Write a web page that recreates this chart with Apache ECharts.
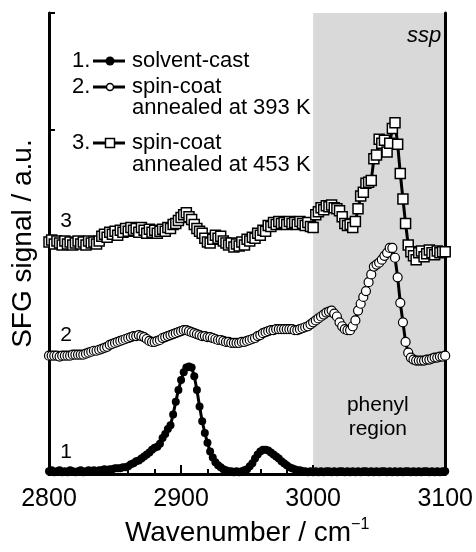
<!DOCTYPE html>
<html>
<head>
<meta charset="utf-8">
<script src="https://cdn.jsdelivr.net/npm/echarts@6.0.0/dist/echarts.min.js"></script>
<style>
  html, body { margin: 0; padding: 0; background: #fff; }
  #chart { width: 476px; height: 552px; }
</style>
</head>
<body>
<div id="chart"></div>
<script>
// wavenumber grid of the scan (cm-1)
var wavenumber = [
  2800, 2802, 2804, 2806, 2808, 2810, 2812, 2814, 2816, 2818,
  2820, 2822, 2824, 2826, 2828, 2830, 2832, 2834, 2836, 2838,
  2840, 2842, 2844, 2846, 2848, 2850, 2852, 2854, 2856, 2858,
  2860, 2862, 2864, 2866, 2868, 2870, 2872, 2874, 2876, 2878,
  2880, 2882, 2884, 2886, 2888, 2890, 2892, 2894, 2896, 2898,
  2900, 2902, 2904, 2906, 2908, 2910, 2912, 2914, 2916, 2918,
  2920, 2922, 2924, 2926, 2928, 2930, 2932, 2934, 2936, 2938,
  2940, 2942, 2944, 2946, 2948, 2950, 2952, 2954, 2956, 2958,
  2960, 2962, 2964, 2966, 2968, 2970, 2972, 2974, 2976, 2978,
  2980, 2982, 2984, 2986, 2988, 2990, 2992, 2994, 2996, 2998,
  3000, 3002, 3004, 3006, 3008, 3010, 3012, 3014, 3016, 3018,
  3020, 3022, 3024, 3026, 3028, 3030, 3032, 3034, 3036, 3038,
  3040, 3042, 3044, 3046, 3048, 3050, 3052, 3054, 3056, 3058,
  3060, 3062, 3064, 3066, 3068, 3070, 3072, 3074, 3076, 3078,
  3080, 3082, 3084, 3086, 3088, 3090, 3092, 3094, 3096, 3098,
  3100
];

// 1. solvent-cast
var solventCast = [
  3, 4, 2, 3, 4, 2, 3, 2, 4, 3,
  2, 3, 4, 2, 3, 4, 3, 4, 3, 4,
  4, 5, 4, 5, 5, 6, 6, 6, 7, 7,
  8, 10, 11, 13, 14, 16, 18, 20, 22, 25,
  27, 28, 31, 37, 41, 46, 50, 61, 74, 86,
  96, 104, 109, 110, 109, 100, 86, 69, 54, 42,
  32, 23, 17, 12, 9, 7, 5, 4, 3, 3,
  2, 3, 2, 3, 4, 5, 8, 11, 16, 20,
  23, 25, 25, 24, 22, 20, 18, 16, 13, 11,
  9, 7, 6, 5, 4, 4, 3, 3, 2, 3,
  2, 3, 2, 3, 2, 3, 3, 2, 3, 2,
  3, 3, 2, 3, 2, 3, 2, 3, 2, 3,
  3, 2, 3, 2, 3, 2, 3, 3, 2, 3,
  2, 3, 2, 3, 2, 3, 3, 2, 3, 2,
  3, 2, 3, 3, 2, 3, 2, 3, 2, 3,
  3
];

// 2. spin-coat annealed at 393 K (offset)
var spinCoat393 = [
  121, 121, 121, 121, 120, 121, 121, 121, 121, 122,
  122, 122, 122, 122, 123, 124, 125, 126, 126, 127,
  128, 129, 130, 132, 133, 134, 135, 136, 137, 138,
  139, 140, 141, 141, 142, 141, 140, 138, 136, 135,
  135, 136, 137, 139, 140, 141, 142, 143, 144, 145,
  146, 147, 147, 146, 145, 144, 143, 142, 141, 141,
  140, 140, 139, 138, 137, 137, 136, 135, 135, 134,
  134, 134, 134, 135, 135, 136, 137, 138, 139, 141,
  142, 144, 145, 146, 147, 147, 148, 148, 148, 148,
  148, 148, 148, 147, 147, 148, 149, 150, 151, 153,
  155, 157, 159, 161, 163, 165, 166, 167, 164, 161,
  155, 151, 148, 147, 147, 151, 157, 167, 174, 181,
  187, 196, 204, 212, 214, 216, 219, 223, 226, 231,
  231, 221, 201, 175, 155, 135, 124, 119, 117, 116,
  116, 116, 116, 117, 117, 118, 119, 119, 120, 120,
  121
];

// 3. spin-coat annealed at 453 K (offset)
var spinCoat453 = [
  237, 239, 235, 238, 236, 234, 238, 235, 237, 234,
  236, 238, 235, 237, 234, 238, 236, 237, 235, 238,
  243, 245, 242, 247, 245, 248, 244, 249, 247, 251,
  248, 252, 249, 251, 247, 252, 249, 246, 250, 247,
  249, 246, 248, 250, 248, 252, 251, 255, 256, 259,
  262, 265, 267, 263, 260, 255, 251, 248, 246, 241,
  237, 236, 240, 244, 241, 243, 238, 236, 234, 236,
  232, 235, 233, 237, 234, 240, 238, 242, 241, 246,
  244, 249, 248, 254, 253, 257, 255, 258, 256, 257,
  255, 258, 256, 257, 255, 258, 256, 254, 257, 253,
  252, 265, 268, 272, 270, 274, 273, 275, 272, 271,
  269, 263, 256, 254, 255, 252, 258, 271, 284, 288,
  297, 298, 300, 322, 326, 342, 338, 341, 329, 338,
  353, 359, 337, 307, 281, 256, 234, 227, 223, 219,
  226, 228, 222, 225, 229, 226, 224, 228, 226, 227,
  227
];

var xRange = [2800, 3100];
var yRange = [0, 471];
var phenylRegion = [3000, 3100];
var traceNumbers = ['1', '2', '3'];
var traceNumberAt = [[2813, 22], [2813, 142], [2813, 258]];
var legendNames = [['solvent-cast'], ['spin-coat', 'annealed at 393 K'], ['spin-coat', 'annealed at 453 K']];

var FONT = '"Liberation Sans", Arial, sans-serif';

function pair(ys) {
  return ys.map(function (y, i) { return [wavenumber[i], y]; });
}

function trace(name, ys, symbol, size, fill, border) {
  return {
    name: name,
    type: 'line',
    data: pair(ys),
    symbol: symbol,
    symbolSize: size,
    showAllSymbol: true,
    silent: true,
    z: 3,
    lineStyle: { color: '#000', width: 3 },
    itemStyle: { color: fill, borderColor: '#000', borderWidth: border }
  };
}

var chart = echarts.init(document.getElementById('chart'));

var frameLine = { lineStyle: { color: '#000', width: 3 } };

var option = {
  animation: false,
  backgroundColor: '#fff',
  grid: { left: 49, right: 30, top: 13, bottom: 68 },
  xAxis: [{
    type: 'value', min: xRange[0], max: xRange[1], interval: 100, z: 2,
    axisLine: frameLine,
    axisTick: { inside: true, length: 9, lineStyle: { color: '#000', width: 2 } },
    minorTick: { show: true, splitNumber: 5, length: 5, lineStyle: { color: '#000', width: 2 } },
    splitLine: { show: false },
    axisLabel: {
      color: '#000', fontSize: 25, fontFamily: FONT, margin: 13,
      formatter: function (v) { return String(v); }
    },
    name: 'Wavenumber / cm{sup|\u22121}',
    nameLocation: 'middle', nameGap: 42,
    nameTextStyle: {
      color: '#000', fontSize: 28, fontFamily: FONT,
      rich: { sup: { fontSize: 16, fontFamily: FONT, color: '#000', padding: [0, 0, 16, 0] } }
    }
  }, {
    type: 'value', position: 'top', min: xRange[0], max: xRange[1], z: 2,
    axisLine: frameLine, axisTick: { show: false }, axisLabel: { show: false }, splitLine: { show: false }
  }],
  yAxis: [{
    type: 'value', min: yRange[0], max: yRange[1], interval: 352, z: 2,
    axisLine: frameLine,
    axisTick: { inside: true, length: 6, lineStyle: { color: '#000', width: 2 } },
    axisLabel: { show: false },
    splitLine: { show: false },
    name: 'SFG signal / a.u.',
    nameLocation: 'middle', nameGap: 12,
    nameTextStyle: { color: '#000', fontSize: 28, fontFamily: FONT }
  }, {
    type: 'value', position: 'right', min: yRange[0], max: yRange[1], z: 2,
    axisLine: frameLine, axisTick: { show: false }, axisLabel: { show: false }, splitLine: { show: false }
  }],
  series: [
    {
      type: 'line', data: [], z: 0, silent: true,
      markArea: {
        silent: true,
        itemStyle: { color: '#d9d9d9' },
        data: [[{ xAxis: phenylRegion[0] }, { xAxis: phenylRegion[1] }]]
      }
    },
    trace('spin-coat 453 K', spinCoat453, 'rect', 10, '#fff', 1.5),
    trace('spin-coat 393 K', spinCoat393, 'circle', 9, '#fff', 1.2),
    trace('solvent-cast', solventCast, 'circle', 8, '#000', 0)
  ]
};

chart.setOption(option);

function txt(s, x, y, size, opts) {
  opts = opts || {};
  return {
    type: 'text', z: 10, silent: true,
    style: {
      text: s, x: x, y: y, fill: '#000',
      font: (opts.italic ? 'italic ' : '') + size + 'px ' + FONT,
      align: opts.align || 'left', verticalAlign: 'middle'
    }
  };
}

var graphics = [];

// legend, drawn by hand so the number sits before the icon
var legendRowY = [[61], [87, 108], [143, 165]];
legendNames.forEach(function (lines, k) {
  var y0 = legendRowY[k][0];
  graphics.push(txt(traceNumbers[k] + '.', 72, y0, 22));
  graphics.push({ type: 'line', z: 10, silent: true, shape: { x1: 93, y1: y0, x2: 125, y2: y0 }, style: { stroke: '#000', lineWidth: 3 } });
  if (k === 0) {
    graphics.push({ type: 'circle', z: 11, silent: true, shape: { cx: 110, cy: y0, r: 4.5 }, style: { fill: '#000' } });
  } else if (k === 1) {
    graphics.push({ type: 'circle', z: 11, silent: true, shape: { cx: 110, cy: y0, r: 3.5 }, style: { fill: '#fff', stroke: '#000', lineWidth: 1.5 } });
  } else {
    graphics.push({ type: 'rect', z: 11, silent: true, shape: { x: 105.5, y: y0 - 4.5, width: 9, height: 9 }, style: { fill: '#fff', stroke: '#000', lineWidth: 1.5 } });
  }
  lines.forEach(function (line, j) {
    graphics.push(txt(line, 132, legendRowY[k][j], 22));
  });
});

// trace numbers next to each curve
traceNumberAt.forEach(function (pt, k) {
  var p = chart.convertToPixel({ gridIndex: 0 }, pt);
  graphics.push(txt(traceNumbers[k], p[0], p[1], 21, { align: 'center' }));
});

// region annotations
var pPhenyl = chart.convertToPixel({ gridIndex: 0 }, [3049, 70]);
graphics.push(txt('phenyl', pPhenyl[0], pPhenyl[1], 21, { align: 'center' }));
graphics.push(txt('region', pPhenyl[0], pPhenyl[1] + 24, 21, { align: 'center' }));
var pSsp = chart.convertToPixel({ gridIndex: 0 }, [3097, 448]);
graphics.push(txt('ssp', pSsp[0], pSsp[1], 22, { align: 'right', italic: true }));

chart.setOption({ graphic: graphics });
</script>
</body>
</html>
